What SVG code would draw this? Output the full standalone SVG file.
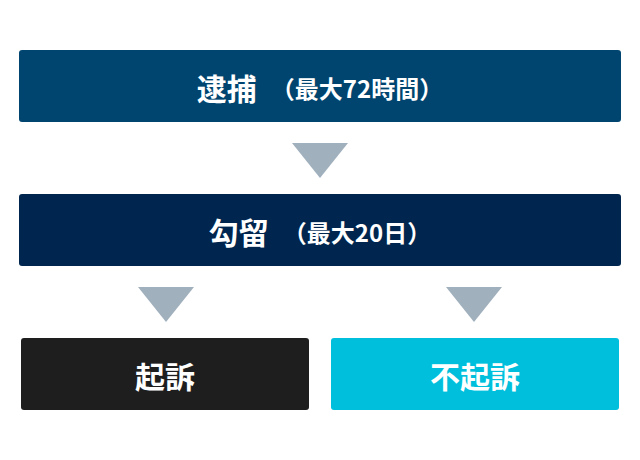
<svg xmlns="http://www.w3.org/2000/svg" width="640" height="460" viewBox="0 0 640 460">
<style>
text{font-family:"Noto Sans CJK JP","Noto Sans",sans-serif;font-weight:bold;fill:#fff;text-anchor:middle;dominant-baseline:central}
.big{font-size:30px}.sm{font-size:24px}
.tri{fill:#a1b0bd}
</style>
<rect width="640" height="460" fill="#fff"/>
<g id="arrest"><rect x="19" y="50" width="602" height="72" rx="3" fill="#004570"/>
<text x="320" y="87"><tspan class="big">逮捕</tspan><tspan class="sm" dx="14">（最大72時間）</tspan></text></g>
<g id="detention"><rect x="19" y="194" width="602" height="72" rx="3" fill="#00264f"/>
<text x="320" y="231"><tspan class="big">勾留</tspan><tspan class="sm" dx="14">（最大20日）</tspan></text></g>
<g id="prosecute"><rect x="21" y="338" width="288" height="72" rx="3" fill="#1e1e1e"/>
<text x="165" y="375" class="big">起訴</text></g>
<g id="noprosecute"><rect x="331" y="338" width="288" height="72" rx="3" fill="#00bfdc"/>
<text x="475" y="375" class="big">不起訴</text></g>
<g id="connectors">
<polygon class="tri" points="292,143 348,143 320,178"/>
<polygon class="tri" points="138,287 194,287 166,322"/>
<polygon class="tri" points="446,287 502,287 474,322"/>
</g>
</svg>
